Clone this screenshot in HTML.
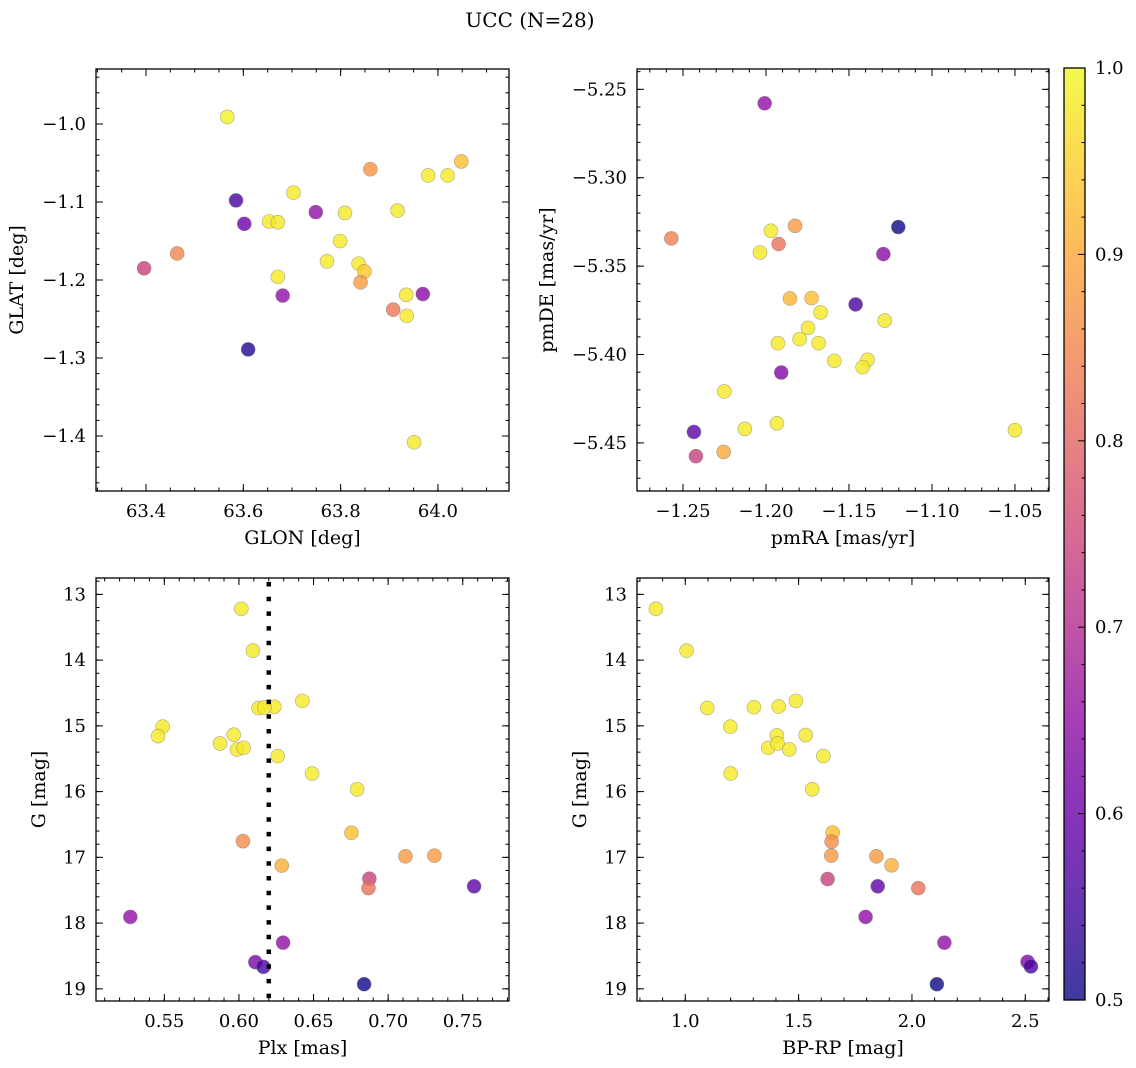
<!DOCTYPE html>
<html><head><meta charset="utf-8">
<style>
html,body{margin:0;padding:0;background:#fff;}
svg{display:block;font-family:"DejaVu Serif","Liberation Serif",serif;}
</style></head>
<body>
<svg id="fig" width="1136" height="1068" viewBox="0 0 1136 1068" xmlns="http://www.w3.org/2000/svg">
<rect width="1136" height="1068" fill="#fff"/>
<text x="530" y="27" font-size="20" text-anchor="middle">UCC (N=28)</text>
<defs>
<linearGradient id="plasmaGrad" x1="0" y1="1" x2="0" y2="0">
<stop offset="0" stop-color="#0d0887"/><stop offset="0.1" stop-color="#41049d"/>
<stop offset="0.2" stop-color="#6a00a8"/><stop offset="0.3" stop-color="#8f0da4"/>
<stop offset="0.4" stop-color="#b12a90"/><stop offset="0.5" stop-color="#cc4778"/>
<stop offset="0.6" stop-color="#e16462"/><stop offset="0.7" stop-color="#f2844b"/>
<stop offset="0.8" stop-color="#fca636"/><stop offset="0.9" stop-color="#fcce25"/>
<stop offset="1" stop-color="#f0f921"/>
</linearGradient>
</defs>
</svg>
<script>
// ---- data ----
const glon=[63.567,63.861,63.98,64.02,64.048,63.585,63.703,63.749,63.809,63.917,63.602,63.653,63.671,63.799,63.464,63.396,63.772,63.837,63.849,63.841,63.671,63.681,63.935,63.969,63.908,63.936,63.61,63.951];
const glat=[-0.991,-1.058,-1.066,-1.066,-1.048,-1.098,-1.088,-1.113,-1.114,-1.111,-1.128,-1.125,-1.126,-1.15,-1.166,-1.185,-1.176,-1.179,-1.189,-1.203,-1.196,-1.22,-1.219,-1.218,-1.238,-1.246,-1.289,-1.408];
const probTL=[0.99,0.87,0.98,0.98,0.93,0.56,0.98,0.65,0.98,0.98,0.6,0.98,0.98,0.98,0.85,0.74,0.98,0.98,0.94,0.88,0.98,0.65,0.98,0.64,0.83,0.98,0.52,0.98];

const pmra=[-1.2008,-1.257,-1.197,-1.1825,-1.1924,-1.2036,-1.1203,-1.1293,-1.1855,-1.1725,-1.1671,-1.146,-1.1285,-1.1747,-1.1797,-1.1928,-1.1683,-1.1588,-1.1388,-1.1418,-1.1908,-1.2251,-1.1934,-1.2127,-1.2434,-1.05,-1.2255,-1.2422];
const pmde=[-5.2579,-5.3343,-5.33,-5.3272,-5.3375,-5.3423,-5.3279,-5.3432,-5.3683,-5.3681,-5.3762,-5.3717,-5.3808,-5.3849,-5.3913,-5.3936,-5.3936,-5.4036,-5.403,-5.4072,-5.4102,-5.4209,-5.4389,-5.4421,-5.4438,-5.4428,-5.4551,-5.4575];
const probTR=[0.65,0.84,0.98,0.88,0.82,0.98,0.5,0.64,0.92,0.93,0.98,0.56,0.98,0.98,0.98,0.98,0.98,0.98,0.98,0.98,0.63,0.98,0.98,0.98,0.58,0.98,0.9,0.74];

const plx=[0.6016,0.6094,0.6425,0.6132,0.6237,0.5489,0.5458,0.5965,0.5873,0.5987,0.6032,0.626,0.649,0.6792,0.617,0.6754,0.6027,0.6287,0.7116,0.731,0.6874,0.6868,0.7576,0.5272,0.6296,0.611,0.6164,0.6839];
const gmagBL=[13.22,13.856,14.62,14.73,14.71,15.012,15.155,15.134,15.267,15.359,15.333,15.46,15.725,15.965,14.72,16.627,16.754,17.126,16.984,16.974,17.325,17.468,17.44,17.906,18.298,18.594,18.665,18.93];
const probBL=[0.98,0.98,0.98,0.98,0.98,0.98,0.98,0.98,0.98,0.98,0.98,0.98,0.98,0.98,0.98,0.93,0.86,0.91,0.88,0.88,0.74,0.82,0.58,0.65,0.65,0.62,0.56,0.5];
const plxLine=[0.62];

const bprp=[0.8706,1.0059,1.097,1.303,1.412,1.488,1.1985,1.404,1.531,1.366,1.407,1.459,1.609,1.2,1.56,1.65,1.6456,1.644,1.843,1.91,1.628,1.849,2.028,1.7956,2.143,2.51,2.525,2.11];
const gmagBR=[13.22,13.856,14.727,14.717,14.707,14.62,15.012,15.145,15.14,15.333,15.267,15.359,15.46,15.725,15.965,16.622,16.76,16.974,16.984,17.121,17.33,17.44,17.468,17.906,18.298,18.589,18.66,18.93];
const probBR=[0.98,0.98,0.98,0.98,0.98,0.98,0.98,0.98,0.98,0.98,0.98,0.98,0.98,0.98,0.98,0.93,0.86,0.88,0.88,0.91,0.74,0.58,0.82,0.65,0.65,0.62,0.56,0.5];

const ticksTLx=[63.4,63.6,63.8,64.0], ticksTLy=[-1.0,-1.1,-1.2,-1.3,-1.4];
const ticksTRx=[-1.25,-1.20,-1.15,-1.10,-1.05], ticksTRy=[-5.25,-5.30,-5.35,-5.40,-5.45];
const ticksBLx=[0.55,0.60,0.65,0.70,0.75], ticksGy=[13,14,15,16,17,18,19];
const ticksBRx=[1.0,1.5,2.0,2.5];
const ticksCbar=[0.5,0.6,0.7,0.8,0.9,1.0];

// ---- rendering ----
const NS="http://www.w3.org/2000/svg";
const svg=document.getElementById('fig');
const TF=18, LF=19;
function mk(tag,attrs,parent){const e=document.createElementNS(NS,tag);for(const k in attrs)e.setAttribute(k,attrs[k]);(parent||svg).appendChild(e);return e;}
const plasma=[[13,8,135],[65,4,157],[106,0,168],[143,13,164],[177,42,144],[204,71,120],[225,100,98],[242,132,75],[252,166,54],[252,206,37],[240,249,33]];
function cmap(p){let t=(p-0.5)/0.5;t=Math.max(0,Math.min(1,t));const f=t*10,i=Math.min(9,Math.floor(f)),r=f-i;const a=plasma[i],b=plasma[i+1];
return 'rgb('+[0,1,2].map(k=>Math.round(a[k]+(b[k]-a[k])*r)).join(',')+')';}
function fmt(v,d){const s=Math.abs(v).toFixed(d);return v<0?'\u2212'+s:s;}

function panel(name,box,xd,yd,xt,yt,xdec,ydec,xmin,ymin,xs,ys,ps,xlabel,ylabel,ylabX){
  const g=mk('g',{});
  
  
  const X=v=>box.x0+(v-xd[0])/(xd[1]-xd[0])*(box.x1-box.x0);
  const Y=v=>box.y1-(v-yd[0])/(yd[1]-yd[0])*(box.y1-box.y0);
  const pg=mk('g',{},g);
  
  
  for(let i=0;i<xs.length;i++){
    const c=mk('circle',{cx:X(xs[i]),cy:Y(ys[i]),r:7,fill:cmap(ps[i]),'fill-opacity':0.8,stroke:'#777','stroke-opacity':0.6,'stroke-width':0.6},pg);
    
    
  }
  const tg=mk('g',{stroke:'#000','stroke-width':1},g);
  const eps=1e-9;
  function minorRange(d,step,cb){const s=Math.ceil(d[0]/step-eps);for(let k=s;k*step<=d[1]+eps;k++)cb(k*step);}
  minorRange(xd,xmin,v=>{const x=X(v);mk('line',{x1:x,x2:x,y1:box.y1,y2:box.y1-3.5},tg);mk('line',{x1:x,x2:x,y1:box.y0,y2:box.y0+3.5},tg);});
  minorRange(yd,ymin,v=>{const y=Y(v);mk('line',{x1:box.x0,x2:box.x0+3.5,y1:y,y2:y},tg);mk('line',{x1:box.x1,x2:box.x1-3.5,y1:y,y2:y},tg);});
  xt.forEach(v=>{const x=X(v);mk('line',{x1:x,x2:x,y1:box.y1,y2:box.y1-7},tg);mk('line',{x1:x,x2:x,y1:box.y0,y2:box.y0+7},tg);
    const t=mk('text',{x:x,y:box.y1+26,'font-size':TF,'text-anchor':'middle'},g);t.textContent=fmt(v,xdec);
    });
  yt.forEach(v=>{const y=Y(v);mk('line',{x1:box.x0,x2:box.x0+7,y1:y,y2:y},tg);mk('line',{x1:box.x1,x2:box.x1-7,y1:y,y2:y},tg);
    const t=mk('text',{x:box.x0-10,y:y+6,'font-size':TF,'text-anchor':'end'},g);t.textContent=fmt(v,ydec);
    });
  const fr=mk('rect',{x:box.x0,y:box.y0,width:box.x1-box.x0,height:box.y1-box.y0,fill:'none',stroke:'#000','stroke-width':1.3},g);
  
  const xl=mk('text',{x:(box.x0+box.x1)/2,y:box.y1+53,'font-size':LF,'text-anchor':'middle'},g);xl.textContent=xlabel;
  
  const cy=(box.y0+box.y1)/2;
  const yl=mk('text',{x:ylabX,y:cy,'font-size':LF,'text-anchor':'middle',transform:'rotate(-90 '+ylabX+' '+cy+')'},g);yl.textContent=ylabel;
  
  return {X,Y,g};
}

const TL=panel('panel-glon-glat',{x0:96,x1:509,y0:69,y1:491},[63.2972,64.1461],[-1.4705,-0.9295],ticksTLx,ticksTLy,1,1,0.05,0.02,glon,glat,probTL,'GLON [deg]','GLAT [deg]',23);
const TR=panel('panel-pm',{x0:637,x1:1049,y0:69,y1:491},[-1.2777,-1.0295],[-5.4772,-5.2385],ticksTRx,ticksTRy,2,2,0.01,0.01,pmra,pmde,probTR,'pmRA [mas/yr]','pmDE [mas/yr]',553);
const BL=panel('panel-plx-g',{x0:96,x1:509,y0:578,y1:1001},[0.5042,0.781],[-19.185,-12.751],ticksBLx,[],2,0,0.01,0.2,plx,gmagBL.map(v=>-v),probBL,'Plx [mas]','G [mag]',45);
const BR=panel('panel-cmd',{x0:637,x1:1049,y0:578,y1:1001},[0.787,2.6046],[-19.185,-12.751],ticksBRx,[],1,0,0.1,0.2,bprp,gmagBR.map(v=>-v),probBR,'BP-RP [mag]','G [mag]',586);
[[BL,96,509],[BR,637,1049]].forEach(([P,x0,x1])=>{
  ticksGy.forEach(v=>{const y=P.Y(-v);mk('line',{x1:x0,x2:x0+7,y1:y,y2:y,stroke:'#000'},P.g);mk('line',{x1:x1,x2:x1-7,y1:y,y2:y,stroke:'#000'},P.g);
    const t=mk('text',{x:x0-10,y:y+6,'font-size':TF,'text-anchor':'end'},P.g);t.textContent=String(v);
    });
});
const dl=mk('line',{x1:BL.X(plxLine[0]),x2:BL.X(plxLine[0]),y1:582,y2:1001,stroke:'#000','stroke-width':4.5,'stroke-dasharray':'4.5 10.2'},BL.g);



const cb={x0:1064,x1:1085,y0:68,y1:1000};
const cg=mk('g',{});


mk('rect',{x:cb.x0,y:cb.y0,width:cb.x1-cb.x0,height:cb.y1-cb.y0,fill:'url(#plasmaGrad)','fill-opacity':0.8},cg);
mk('rect',{x:cb.x0,y:cb.y0,width:cb.x1-cb.x0,height:cb.y1-cb.y0,fill:'none',stroke:'#000','stroke-width':1.3},cg);
const CY=v=>cb.y1-(v-0.5)/0.5*(cb.y1-cb.y0);
for(let k=26;k<50;k++){const v=k/50;if(k%5===0)continue;const y=CY(v);mk('line',{x1:cb.x1,x2:cb.x1-3.5,y1:y,y2:y,stroke:'#000'},cg);}
ticksCbar.forEach(v=>{const y=CY(v);mk('line',{x1:cb.x1,x2:cb.x1-7,y1:y,y2:y,stroke:'#000'},cg);
  const t=mk('text',{x:cb.x1+10,y:y+6,'font-size':TF},cg);t.textContent=v.toFixed(1);
  });
</script>
</body></html>
